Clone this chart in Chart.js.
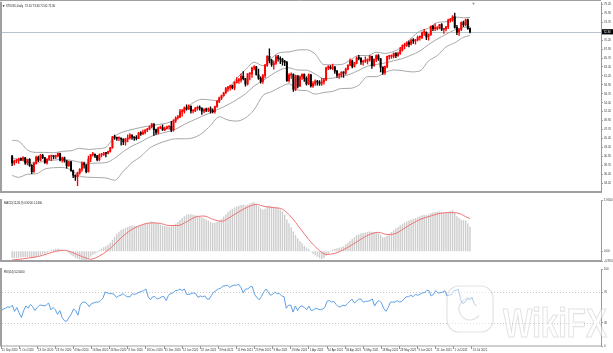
<!DOCTYPE html>
<html>
<head>
<meta charset="utf-8">
<script src="https://cdn.jsdelivr.net/npm/chart.js@4.4.1/dist/chart.umd.min.js"></script>
<style>
  html, body { margin: 0; padding: 0; background: #fff; }
  #wrap { position: relative; width: 613px; height: 353px; overflow: hidden; background: #fff; }
  #wrap canvas { position: absolute; left: 0; top: 0; }
</style>
</head>
<body>
<div id="wrap">
  <canvas id="price" width="613" height="353"></canvas>
  <canvas id="macd" width="613" height="353"></canvas>
  <canvas id="rsi" width="613" height="353"></canvas>
</div>
<script>
// Daily bars, 21 Sep 2020 .. 15 Jul 2021 (one bar per trading day)
const symbolName = 'XTIUSD,Daily';

const dateLabels = [
  '21 Sep 2020', '1 Oct 2020', '13 Oct 2020', '23 Oct 2020', '4 Nov 2020', '16 Nov 2020',
  '26 Nov 2020', '8 Dec 2020', '18 Dec 2020', '31 Dec 2020', '12 Jan 2021', '22 Jan 2021',
  '3 Feb 2021', '15 Feb 2021', '25 Feb 2021', '9 Mar 2021', '19 Mar 2021', '1 Apr 2021',
  '14 Apr 2021', '26 Apr 2021', '6 May 2021', '18 May 2021', '28 May 2021', '9 Jun 2021',
  '21 Jun 2021', '1 Jul 2021', '13 Jul 2021'
];
const LABEL_EVERY = 8; // a date label every 8 bars

const opens = [
  41.0,39.3,39.8,39.9,40.3,40.2,40.6,39.3,40.2,38.7,
  37.1,39.2,40.7,40.0,41.2,40.6,39.4,40.2,41.0,41.0,
  40.9,41.1,41.7,40.0,40.6,39.9,38.6,39.6,37.4,36.2,
  35.8,36.8,37.7,39.2,38.8,37.1,40.3,41.4,41.5,41.1,
  40.1,41.3,41.4,41.8,41.7,42.2,43.1,45.9,45.7,45.5,
  45.5,45.3,44.6,45.3,45.6,46.3,45.8,45.6,45.5,46.8,
  46.6,47.0,47.6,47.8,48.4,49.1,47.7,47.0,48.1,48.2,
  47.6,48.0,48.4,48.5,47.6,49.9,50.6,50.8,52.2,52.3,
  53.2,52.9,53.6,52.4,52.4,53.0,53.3,53.1,52.3,52.8,
  52.6,52.9,52.3,52.2,53.5,54.8,55.7,56.2,56.9,58.0,
  58.4,58.7,58.2,59.5,60.0,60.1,61.1,60.5,59.2,61.7,
  61.7,63.2,63.5,61.5,60.6,59.8,61.3,63.8,66.1,65.1,
  64.0,64.4,66.0,65.6,65.4,64.8,64.6,60.0,61.4,61.6,
  57.8,61.2,58.6,61.0,61.6,60.6,59.2,61.5,58.7,59.3,
  59.8,59.6,59.3,59.7,60.2,63.2,63.5,63.1,63.4,62.4,
  61.4,61.4,62.1,61.9,62.9,63.9,65.0,63.6,64.5,65.7,
  65.6,64.7,64.9,64.9,65.3,66.1,63.8,65.4,66.3,65.5,
  63.4,62.1,63.6,66.1,66.1,66.2,66.9,66.3,66.8,67.7,
  68.8,68.8,69.6,69.2,70.1,70.0,70.3,70.9,70.9,72.1,
  72.2,71.0,71.6,73.7,73.1,73.1,73.3,74.1,72.9,73.0,
  73.5,75.2,75.2,76.1,73.4,72.2,72.9,74.6,74.1,75.3,
  73.1
];
const highs = [
  41.2,40.0,40.2,40.5,40.6,40.9,40.7,40.3,40.4,38.9,
  39.5,41.0,41.0,41.5,41.5,40.7,40.4,41.2,41.1,41.1,
  41.3,41.8,41.8,40.8,40.8,39.9,39.8,39.7,37.5,36.3,
  37.0,37.9,39.6,39.5,38.9,41.0,41.5,42.0,41.6,41.2,
  41.6,41.7,42.0,41.9,42.3,43.2,46.0,46.3,45.8,45.9,
  45.6,45.4,45.5,46.4,46.7,46.4,45.9,46.2,47.0,47.2,
  47.6,47.7,48.0,48.6,49.3,49.2,47.8,48.3,48.6,48.9,
  48.3,48.6,48.6,49.8,50.2,50.9,51.3,52.8,52.8,53.4,
  53.9,53.9,53.6,52.6,53.3,53.6,53.7,53.2,53.0,53.1,
  53.2,53.4,52.9,53.6,55.0,55.9,56.4,57.1,58.3,58.6,
  58.9,58.9,59.8,60.8,60.6,61.7,62.3,60.6,61.8,62.0,
  63.4,63.8,63.6,62.9,61.0,61.6,64.1,66.3,68.0,65.4,
  65.0,66.4,66.4,66.0,65.6,65.1,64.9,61.8,62.0,61.7,
  61.4,61.3,61.2,61.7,61.7,61.0,61.7,61.6,59.8,60.2,
  60.1,60.0,60.6,60.6,63.4,63.8,63.8,64.2,63.6,62.6,
  61.8,62.3,62.3,63.2,64.0,65.5,65.2,64.6,66.0,66.4,
  65.8,65.2,66.0,65.5,66.4,66.2,65.5,66.5,66.6,65.6,
  63.5,63.7,66.2,66.4,66.5,67.0,67.1,67.2,68.4,69.0,
  69.4,69.8,70.0,70.5,70.6,70.4,71.2,71.3,72.3,72.9,
  72.3,71.8,73.8,73.9,74.3,73.6,74.2,74.4,73.2,73.7,
  75.5,75.7,76.4,77.0,73.9,73.2,74.8,75.0,75.5,75.5,
  73.3
];
const lows = [
  38.6,38.8,39.3,39.2,39.9,39.8,38.9,38.8,38.4,36.6,
  36.9,39.0,39.6,39.8,40.4,39.2,39.0,40.0,39.9,40.3,
  40.4,40.8,39.8,39.5,39.5,38.0,38.4,37.2,35.6,34.9,
  33.6,36.5,37.2,38.0,36.8,37.0,39.6,41.0,40.6,39.8,
  39.8,40.8,41.2,40.8,41.6,42.0,43.0,45.2,45.0,44.9,
  43.8,43.9,43.8,44.6,45.3,45.2,45.0,45.1,45.4,46.2,
  46.4,46.6,47.2,47.7,48.1,46.2,46.5,46.6,47.9,47.5,
  47.4,47.8,47.8,47.2,47.3,49.5,50.3,50.7,51.1,51.8,
  52.6,52.7,51.8,51.9,52.2,52.6,52.6,51.5,51.9,52.2,
  52.2,51.8,51.9,51.8,53.3,54.5,55.2,56.1,56.8,57.3,
  57.6,57.9,57.7,59.4,59.3,59.6,60.2,58.6,58.9,60.2,
  60.8,62.7,61.4,60.3,59.4,59.3,60.7,63.6,64.5,63.6,
  62.9,64.1,64.9,64.3,63.9,63.8,59.8,59.6,60.6,57.3,
  57.5,58.2,58.5,60.3,59.8,58.9,59.0,58.4,58.3,58.8,
  58.9,58.8,58.8,59.1,60.0,62.8,62.9,62.8,61.8,60.8,
  60.6,60.9,60.8,61.6,62.7,63.8,63.2,63.4,64.2,65.2,
  64.1,63.9,64.6,64.2,64.9,63.1,63.6,64.8,65.1,62.2,
  61.6,61.6,63.2,65.4,65.6,65.7,65.8,66.1,66.6,67.4,
  68.0,68.6,68.5,69.0,69.4,69.2,70.0,70.2,70.6,71.4,
  70.3,70.2,71.4,72.6,72.6,72.8,73.0,72.6,71.9,72.5,
  73.1,74.7,74.9,73.2,71.6,71.4,72.6,73.6,73.8,72.9,
  72.0
];
const closes = [
  39.3,39.8,39.9,40.3,40.2,40.6,39.3,40.2,38.7,37.1,
  39.2,40.7,40.0,41.2,40.6,39.4,40.2,41.0,41.0,40.9,
  41.1,41.7,40.0,40.6,39.9,38.6,39.6,37.4,36.2,35.8,
  36.8,37.7,39.2,38.8,37.1,40.3,41.4,41.5,41.1,40.1,
  41.3,41.4,41.8,41.7,42.2,43.1,45.9,45.7,45.5,45.5,
  45.3,44.6,45.3,45.6,46.3,45.8,45.6,45.5,46.8,46.6,
  47.0,47.6,47.8,48.4,49.1,47.7,47.0,48.1,48.2,47.6,
  48.0,48.4,48.5,47.6,49.9,50.6,50.8,52.2,52.3,53.2,
  52.9,53.6,52.4,52.4,53.0,53.3,53.1,52.3,52.8,52.6,
  52.9,52.3,52.2,53.5,54.8,55.7,56.2,56.9,58.0,58.4,
  58.7,58.2,59.5,60.0,60.1,61.1,60.5,59.2,61.7,61.7,
  63.2,63.5,61.5,60.6,59.8,61.3,63.8,66.1,65.1,64.0,
  64.4,66.0,65.6,65.4,64.8,64.6,60.0,61.4,61.6,57.8,
  61.2,58.6,61.0,61.6,60.6,59.2,61.5,58.7,59.3,59.8,
  59.6,59.3,59.7,60.2,63.2,63.5,63.1,63.4,62.4,61.4,
  61.4,62.1,61.9,62.9,63.9,65.0,63.6,64.5,65.7,65.6,
  64.7,64.9,64.9,65.3,66.1,63.8,65.4,66.3,65.5,63.4,
  62.1,63.6,66.1,66.1,66.2,66.9,66.3,66.8,67.7,68.8,
  68.8,69.6,69.2,70.1,70.0,70.3,70.9,70.9,72.1,72.2,
  71.0,71.6,73.7,73.1,73.1,73.3,74.1,72.9,73.0,73.5,
  75.2,75.2,76.1,73.4,72.2,72.9,74.6,74.1,75.3,73.1,
  72.3
];

// Bollinger bands (20, 2) read every few bars
const bandIdx = [0,3,7,11,15,19,23,27,31,35,39,43,47,51,55,59,63,67,71,75,79,83,87,91,95,99,
  103,107,111,115,119,123,127,131,135,139,143,147,151,155,159,163,167,171,175,179,183,187,191,
  195,199,203,207,210];
const bandUpper = [45.0,44.76,42.56,41.96,41.96,41.86,42.23,42.37,42.97,42.7,42.87,43.25,45.96,47.14,
  47.72,48.24,48.63,48.98,49.34,50.22,52.64,54.43,55.32,55.14,54.92,57.85,60.6,62.72,64.64,63.77,
  65.72,67.09,67.23,67.72,67.78,66.7,64.03,63.99,64.07,65.16,66.36,66.31,67.17,66.86,67.38,68.57,
  70.66,72.49,73.2,74.64,74.85,76.04,75.83,75.9];
const bandMiddle = [40.57,40.22,39.5,39.26,39.86,39.98,40.19,39.95,39.49,39.2,39.25,39.39,40.46,42.18,
  43.56,44.58,45.81,46.56,47.12,47.8,49.0,50.03,51.02,51.94,52.92,53.97,55.22,56.68,58.66,60.01,
  61.48,62.73,63.23,62.68,62.64,61.66,60.53,60.65,61.05,61.62,62.62,63.67,64.09,64.46,65.04,65.55,
  66.44,67.47,69.08,70.48,71.67,72.78,73.37,73.64];
const bandLower = [36.14,35.68,36.44,36.56,37.76,38.1,38.15,37.53,36.01,35.7,35.63,35.53,34.96,37.22,
  39.4,40.92,42.99,44.14,44.9,45.38,45.36,45.63,46.72,48.74,50.92,50.09,49.84,50.64,52.68,56.25,
  57.24,58.37,59.23,57.64,57.5,56.62,57.03,57.31,58.03,58.08,58.88,61.03,61.01,62.06,62.7,62.53,
  62.22,62.45,64.96,66.32,68.49,69.52,70.91,71.38];

// MACD (12,26,9): main line as histogram, one value per bar
const macdMain = [
  -0.25,-0.25,-0.24,-0.23,-0.22,-0.21,-0.21,-0.21,-0.22,-0.25,
  -0.24,-0.21,-0.18,-0.14,-0.10,-0.08,-0.04,0.00,0.04,0.06,
  0.08,0.09,0.06,0.04,0.02,-0.02,-0.06,-0.12,-0.18,-0.24,
  -0.28,-0.30,-0.32,-0.33,-0.34,-0.27,-0.20,-0.13,-0.08,-0.03,
  0.04,0.09,0.14,0.18,0.24,0.31,0.42,0.54,0.65,0.73,
  0.80,0.84,0.88,0.91,0.95,0.96,0.96,0.95,0.96,0.98,
  1.00,1.03,1.06,1.09,1.12,1.10,1.06,1.03,1.00,0.97,
  0.95,0.93,0.92,0.93,0.98,1.04,1.10,1.18,1.25,1.32,
  1.38,1.40,1.40,1.38,1.36,1.34,1.32,1.28,1.24,1.20,
  1.15,1.10,1.06,1.07,1.10,1.16,1.22,1.31,1.40,1.48,
  1.55,1.60,1.65,1.69,1.72,1.75,1.76,1.74,1.76,1.80,
  1.84,1.85,1.80,1.70,1.62,1.58,1.60,1.68,1.72,1.69,
  1.66,1.65,1.62,1.57,1.50,1.38,1.20,1.05,0.90,0.74,
  0.60,0.48,0.38,0.29,0.20,0.13,0.08,0.00,-0.08,-0.14,
  -0.20,-0.25,-0.28,-0.24,-0.16,-0.08,0.00,0.05,0.08,0.10,
  0.12,0.15,0.18,0.25,0.32,0.39,0.45,0.53,0.60,0.63,
  0.66,0.68,0.70,0.72,0.74,0.73,0.72,0.72,0.70,0.62,
  0.52,0.53,0.58,0.65,0.72,0.79,0.85,0.91,0.98,1.03,
  1.08,1.12,1.16,1.19,1.22,1.25,1.28,1.32,1.36,1.37,
  1.36,1.39,1.44,1.46,1.48,1.49,1.50,1.47,1.44,1.45,
  1.48,1.52,1.56,1.45,1.32,1.25,1.20,1.17,1.16,1.04,
  0.92
];
const signalIdx = [0,4,8,12,16,20,24,28,32,36,40,44,48,52,56,60,64,68,72,76,80,84,88,92,96,100,
  104,108,112,116,120,124,128,132,136,140,144,148,152,156,160,164,168,172,176,180,184,188,192,196,
  200,204,208,210];
const macdSignal = [-0.33,-0.30,-0.25,-0.20,-0.10,0.00,0.04,-0.06,-0.20,-0.30,-0.18,0.04,0.35,0.66,
  0.88,1.02,1.08,1.06,0.98,0.98,1.12,1.30,1.34,1.22,1.14,1.30,1.50,1.68,1.78,1.70,1.66,1.60,1.30,
  0.88,0.45,0.10,-0.12,-0.08,0.06,0.25,0.46,0.64,0.72,0.64,0.68,0.88,1.08,1.24,1.34,1.44,1.47,1.46,
  1.32,1.24];

// RSI (14), one value per bar
const rsiValues = [
  45,48,49,51,50,53,45,50,43,37,
  46,52,49,54,51,46,50,53,53,52,
  53,56,47,50,47,41,46,37,33,32,
  37,41,48,46,40,53,57,57,55,51,
  55,56,57,57,59,62,70,69,68,68,
  67,63,65,66,68,65,64,64,68,67,
  68,70,71,72,74,64,60,64,64,61,
  62,64,64,59,66,68,69,72,72,74,
  72,74,67,67,68,69,68,63,65,64,
  65,61,61,66,70,72,74,75,78,78,
  79,76,78,79,79,80,76,69,74,74,
  77,77,67,63,60,64,70,74,70,66,
  67,70,68,68,65,64,49,53,53,44,
  52,46,51,52,50,47,52,46,47,49,
  48,47,48,50,58,59,57,58,54,51,
  51,53,52,55,58,61,56,58,61,61,
  57,58,58,59,61,52,57,59,56,49,
  45,50,57,57,57,59,57,58,61,64,
  64,66,64,67,66,67,69,69,72,72,
  65,67,72,69,69,70,72,65,66,67,
  72,72,74,60,55,57,62,60,63,55,
  52
];

const priceTicks = [79.20,76.95,74.70,72.45,70.20,67.95,65.70,63.45,61.20,58.95,56.70,54.45,
  52.20,49.95,47.70,45.45,43.20,40.95,38.70,36.45,34.20];
const macdTicks = [1.95, 0, -0.37];
const rsiTicks = [0, 30, 70, 100];
const rsiLevels = [30, 70];

// ---- layout / style ----
const W = 613, H = 353;
const X_MIN = 0.44, X_MAX = 265.0;
const AXIS_W = 12;
const FONT = 'Liberation Sans';
const TINY = 2.8;
const UP = '#ff0000', DOWN = '#000000';
const FRAME = '#a0a0a0';

const barIdx = closes.map((_, i) => i);
const candleColors = barIdx.map(i => closes[i] >= opens[i] ? UP : DOWN);

function xAxis(show) {
  return {
    type: 'linear', min: X_MIN, max: X_MAX, display: show,
    border: { display: false },
    grid: { drawOnChartArea: false, drawTicks: true, tickLength: 3, color: '#777', lineWidth: 0.8 },
    afterBuildTicks: s => { s.ticks = dateLabels.map((_, k) => ({ value: k * LABEL_EVERY })); },
    afterFit: s => { s.height = 7; },
    ticks: {
      autoSkip: false, maxRotation: 0, minRotation: 0, align: 'start', padding: 0,
      font: { size: TINY, family: FONT }, color: '#333',
      callback: (v, i) => ' ' + dateLabels[i]
    }
  };
}

function yAxis(min, max, ticks, fmt) {
  return {
    position: 'right', min, max,
    afterFit: s => { s.width = AXIS_W; },
    afterBuildTicks: s => { s.ticks = ticks.map(v => ({ value: v })); },
    border: { display: true, color: '#9a9a9a', width: 1 },
    grid: { drawOnChartArea: false, tickLength: 2, color: '#888', lineWidth: 0.8 },
    ticks: { autoSkip: false, padding: 1, font: { size: TINY, family: FONT }, color: '#333', callback: fmt }
  };
}

// frame lines and pane titles, all placed from each chart's area
const panePlugin = {
  id: 'pane',
  afterDraw(chart, args, opts) {
    const { ctx, chartArea: a } = chart;
    ctx.save();
    ctx.strokeStyle = FRAME;
    ctx.lineWidth = opts.bottomWidth;
    ctx.beginPath();
    ctx.moveTo(0, a.bottom); ctx.lineTo(a.right, a.bottom);
    ctx.stroke();
    ctx.lineWidth = 2;
    ctx.beginPath();
    ctx.moveTo(1, a.top - 1); ctx.lineTo(1, a.bottom);
    ctx.stroke();
    if (opts.topLine) {
      ctx.lineWidth = 1;
      ctx.beginPath(); ctx.moveTo(0, 0.5); ctx.lineTo(a.right, 0.5); ctx.stroke();
    }
    ctx.fillStyle = '#222';
    ctx.font = TINY + 'px ' + FONT;
    ctx.textBaseline = 'middle';
    ctx.textAlign = 'left';
    ctx.fillText(opts.title, opts.titleX, a.top + 3.6);
    if (opts.marker) {
      ctx.beginPath();
      ctx.moveTo(2.5, a.top + 2.6); ctx.lineTo(4.7, a.top + 2.6); ctx.lineTo(3.6, a.top + 4.4);
      ctx.closePath(); ctx.fill();
    }
    ctx.restore();
  }
};

// current price line + black price box, and the chart-shift marker
const pricePlugin = {
  id: 'lastPrice',
  beforeDatasetsDraw(chart) {
    const { ctx, chartArea: a, scales } = chart;
    const y = Math.round(scales.y.getPixelForValue(closes[closes.length - 1])) + 0.5;
    ctx.save();
    ctx.strokeStyle = '#b7c4d0';
    ctx.lineWidth = 1;
    ctx.beginPath(); ctx.moveTo(a.left, y); ctx.lineTo(a.right, y); ctx.stroke();
    ctx.restore();
  },
  afterDraw(chart) {
    const { ctx, chartArea: a, scales } = chart;
    const last = closes[closes.length - 1];
    const y = scales.y.getPixelForValue(last);
    ctx.save();
    ctx.fillStyle = '#000';
    ctx.fillRect(a.right + 1, y - 2.6, W - a.right - 1, 5.2);
    ctx.fillStyle = '#fff';
    ctx.font = TINY + 'px ' + FONT;
    ctx.textBaseline = 'middle';
    ctx.fillText(last.toFixed(2), a.right + 2.5, y + 0.2);
    const sx = scales.x.getPixelForValue(closes.length + 0.6);
    ctx.fillStyle = '#8a8a8a';
    ctx.beginPath(); ctx.moveTo(sx - 1.3, a.top); ctx.lineTo(sx + 1.3, a.top); ctx.lineTo(sx, a.top + 2.2);
    ctx.closePath(); ctx.fill();
    ctx.restore();
  }
};

// RSI levels (dotted) and the faint watermark
const rsiPlugin = {
  id: 'rsiExtras',
  beforeDatasetsDraw(chart) {
    const { ctx, chartArea: a, scales } = chart;
    ctx.save();
    ctx.strokeStyle = '#c4c4c4';
    ctx.lineWidth = 1;
    ctx.setLineDash([1, 2]);
    rsiLevels.forEach(v => {
      const y = Math.round(scales.y.getPixelForValue(v)) + 0.5;
      ctx.beginPath(); ctx.moveTo(a.left, y); ctx.lineTo(a.right, y); ctx.stroke();
    });
    ctx.restore();
  },
  afterDraw(chart) {
    const { ctx } = chart;
    ctx.save();
    ctx.strokeStyle = 'rgba(150,150,150,0.28)';
    ctx.fillStyle = 'rgba(255,255,255,0.5)';
    ctx.lineWidth = 1.2;
    // logo: rounded square with a curl
    ctx.beginPath();
    ctx.roundRect(447, 286, 46, 46, 12);
    ctx.fill(); ctx.stroke();
    ctx.beginPath();
    ctx.arc(470, 309, 11, Math.PI * 0.2, Math.PI * 1.6);
    ctx.stroke();
    // text
    ctx.translate(503, 337);
    ctx.scale(0.78, 1);
    ctx.font = 'bold 40px ' + FONT;
    ctx.textBaseline = 'alphabetic';
    ctx.fillText('WikiFX', 0, 0);
    ctx.strokeText('WikiFX', 0, 0);
    ctx.restore();
  }
};

const common = {
  responsive: false, animation: false, devicePixelRatio: 1,
  events: [],
  plugins: { legend: { display: false }, tooltip: { enabled: false } }
};

// ---- price pane ----
new Chart(document.getElementById('price'), {
  type: 'bar',
  data: {
    datasets: [
      { type: 'line', label: 'upper', data: bandIdx.map((x, k) => ({ x, y: bandUpper[k] })),
        borderColor: '#a6a6a6', borderWidth: 1, pointRadius: 0, cubicInterpolationMode: 'monotone', order: 5 },
      { type: 'line', label: 'middle', data: bandIdx.map((x, k) => ({ x, y: bandMiddle[k] })),
        borderColor: '#a6a6a6', borderWidth: 1, pointRadius: 0, cubicInterpolationMode: 'monotone', order: 5 },
      { type: 'line', label: 'lower', data: bandIdx.map((x, k) => ({ x, y: bandLower[k] })),
        borderColor: '#a6a6a6', borderWidth: 1, pointRadius: 0, cubicInterpolationMode: 'monotone', order: 5 },
      { label: 'wicks', data: barIdx.map(i => ({ x: i, y: [lows[i], highs[i]] })),
        backgroundColor: candleColors, barThickness: 0.7, grouped: false, order: 3 },
      { label: 'bodies', data: barIdx.map(i => ({ x: i, y: [opens[i], closes[i]] })),
        backgroundColor: candleColors, barThickness: 1.3, minBarLength: 1, grouped: false, order: 2 }
    ]
  },
  options: {
    ...common,
    layout: { padding: { left: 2, right: 0, top: 1, bottom: H - 199 } },
    scales: { x: xAxis(false), y: yAxis(31.99, 79.63, priceTicks, v => v.toFixed(2)) },
    plugins: {
      ...common.plugins,
      pane: {
        bottomWidth: 2, topLine: true, titleX: 6, marker: true,
        title: symbolName + '  ' + [opens, highs, lows, closes].map(a => a[a.length - 1].toFixed(2)).join(' ')
      }
    }
  },
  plugins: [pricePlugin, panePlugin]
});

// ---- MACD pane ----
new Chart(document.getElementById('macd'), {
  type: 'bar',
  data: {
    datasets: [
      { type: 'line', label: 'signal', data: signalIdx.map((x, k) => ({ x, y: macdSignal[k] })),
        borderColor: '#f07272', borderWidth: 1, pointRadius: 0, cubicInterpolationMode: 'monotone', order: 1 },
      { label: 'macd', data: barIdx.map(i => ({ x: i, y: macdMain[i] })),
        backgroundColor: '#cdcdcd', barThickness: 0.75, grouped: false, order: 2 }
    ]
  },
  options: {
    ...common,
    layout: { padding: { left: 2, right: 0, top: 200, bottom: H - 268 } },
    scales: {
      x: xAxis(false),
      y: yAxis(-0.37, 1.95, macdTicks, v => v === 0 ? '0.00' : v.toFixed(4))
    },
    plugins: {
      ...common.plugins,
      pane: {
        bottomWidth: 2, titleX: 4,
        title: 'MACD(12,26,9) ' + macdMain[macdMain.length - 1].toFixed(4) + ' ' +
          macdSignal[macdSignal.length - 1].toFixed(4)
      }
    }
  },
  plugins: [panePlugin]
});

// ---- RSI pane ----
new Chart(document.getElementById('rsi'), {
  type: 'line',
  data: {
    datasets: [
      { label: 'rsi', data: barIdx.map(i => ({ x: i, y: rsiValues[i] })),
        borderColor: '#5d9fe4', borderWidth: 1, pointRadius: 0, tension: 0 }
    ]
  },
  options: {
    ...common,
    layout: { padding: { left: 2, right: 0, top: 269, bottom: 0 } },
    scales: { x: xAxis(true), y: yAxis(0, 100, rsiTicks, v => String(v)) },
    plugins: {
      ...common.plugins,
      pane: {
        bottomWidth: 1, titleX: 4,
        title: 'RSI(14) ' + rsiValues[rsiValues.length - 1].toFixed(4)
      }
    }
  },
  plugins: [rsiPlugin, panePlugin]
});
</script>
</body>
</html>
